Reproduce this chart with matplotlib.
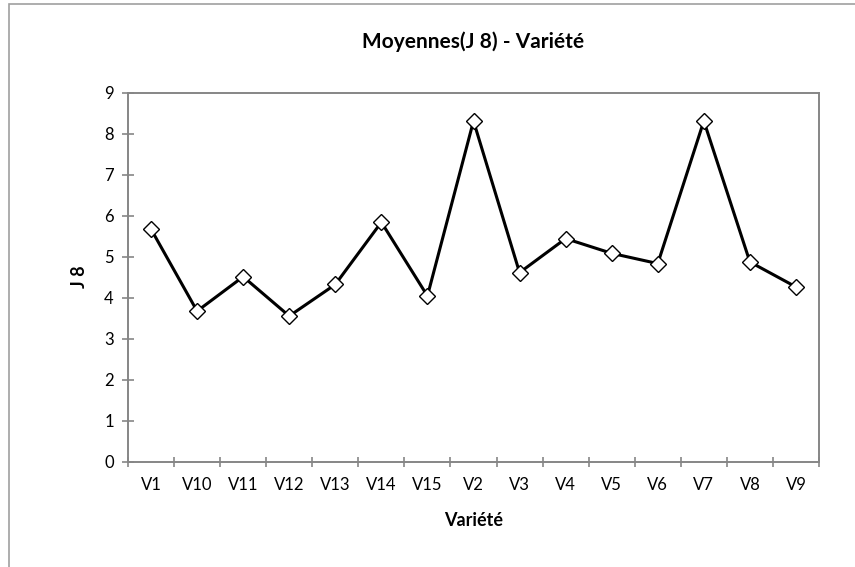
import matplotlib
matplotlib.use('Agg')
import matplotlib.pyplot as plt
from matplotlib.patches import Rectangle

# données
varietes = ['V1', 'V10', 'V11', 'V12', 'V13', 'V14', 'V15', 'V2',
            'V3', 'V4', 'V5', 'V6', 'V7', 'V8', 'V9']
moyennes = [5.67, 3.67, 4.51, 3.55, 4.32, 5.84, 4.04, 8.31,
            4.61, 5.44, 5.08, 4.83, 8.31, 4.87, 4.26]

plt.rcParams['font.family'] = ['Lato', 'DejaVu Sans']

fig = plt.figure(figsize=(8.55, 5.67), dpi=100)
ax = fig.add_axes([128 / 855, 1 - 461.5 / 567, (819 - 128) / 855, (461.5 - 92.7) / 567])

# cadre extérieur
fig.patches.append(Rectangle((9 / 855, -0.1), 1.2, 1.1 - 4 / 567, transform=fig.transFigure,
                             fill=False, edgecolor='#a0a0a0', linewidth=1.2))

x = list(range(len(varietes)))
ax.plot(x, moyennes, color='black', linewidth=2.2, marker='D', markersize=8,
        markerfacecolor='white', markeredgecolor='black', markeredgewidth=1.0, zorder=3)

ax.set_xlim(-0.5, len(varietes) - 0.5)
ax.set_ylim(0, 9)
ax.set_yticks(range(0, 10))
ax.set_xticks([i - 0.5 for i in range(len(varietes) + 1)])
ax.set_xticklabels([])
ax.set_xticks(x, minor=True)
ax.set_xticklabels(varietes, minor=True)
ax.tick_params(axis='x', which='minor', length=0, pad=11, labelsize=12)
ax.tick_params(axis='x', which='major', length=6.5, width=1.2, color='#868686', direction='inout')
ax.tick_params(axis='y', length=8.5, width=1.2, color='#868686', labelsize=12, pad=6,
               direction='inout')

for s in ax.spines.values():
    s.set_color('#868686')
    s.set_linewidth(1.4)

ax.set_title('Moyennes(J 8) - Variété', fontsize=15, fontweight='bold', pad=32)
ax.set_xlabel('Variété', fontsize=13, fontweight='bold', labelpad=14)
ax.set_ylabel('J 8', fontsize=13, fontweight='bold')
ax.yaxis.set_label_coords(-0.058, 0.5)

fig.savefig('out.png', dpi=100)
